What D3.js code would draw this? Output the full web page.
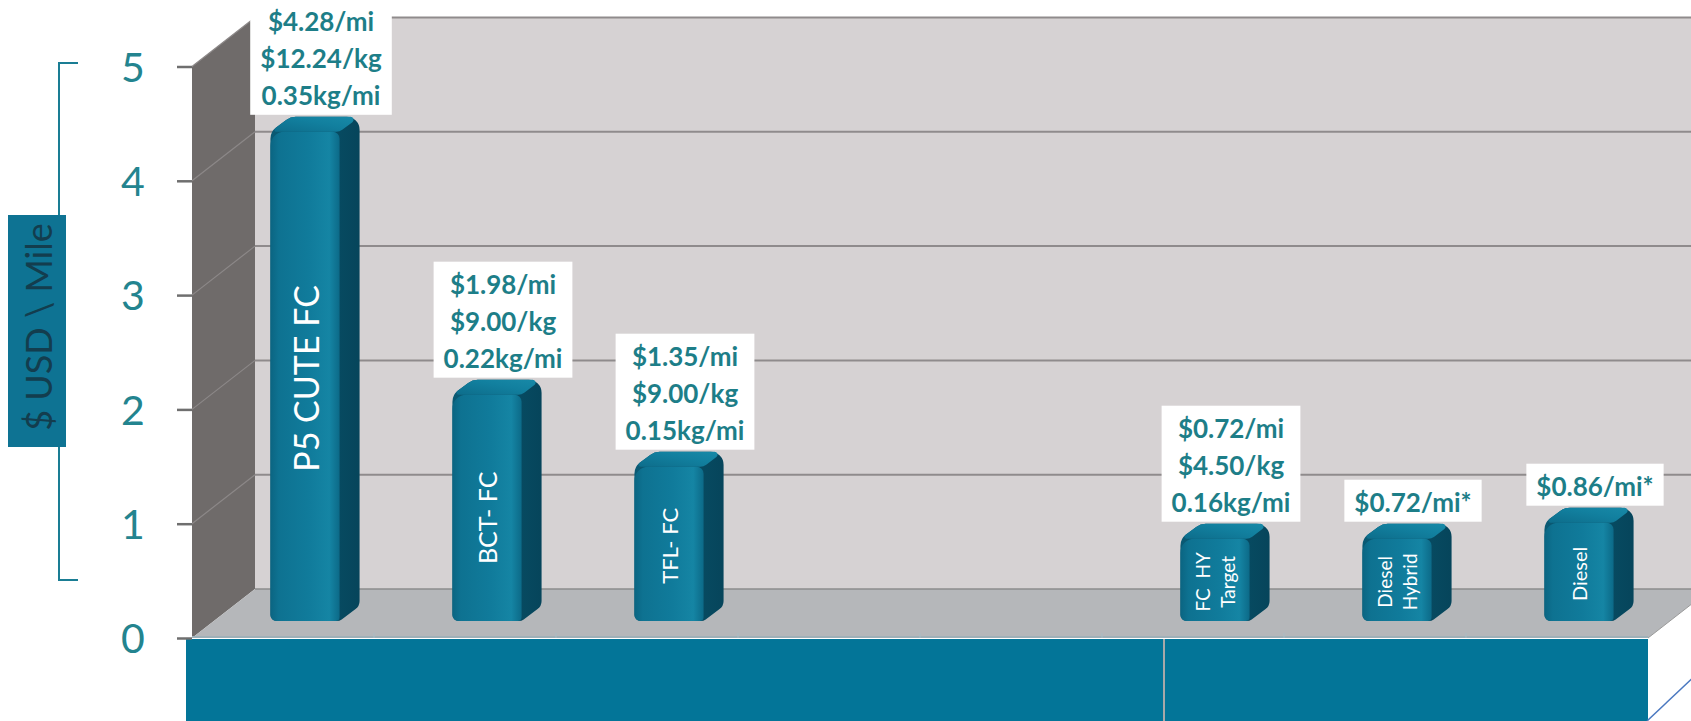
<!DOCTYPE html>
<html>
<head>
<meta charset="utf-8">
<script src="https://cdn.jsdelivr.net/npm/d3@7"></script>
<style>
  html, body { margin: 0; padding: 0; background: #ffffff; }
  svg { display: block; }
</style>
</head>
<body>
<svg id="chart" width="1691" height="721"></svg>
<script>
// ---- data ----
const categories = ["P5 CUTE FC", "BCT- FC", "TFL- FC", "", "", "FC  HY|Target", "Diesel|Hybrid", "Diesel"];
const costPerMile = [4.28, 1.98, 1.35, null, null, 0.72, 0.72, 0.86];
const valueLabels = [
  ["$4.28/mi", "$12.24/kg", "0.35kg/mi"],
  ["$1.98/mi", "$9.00/kg", "0.22kg/mi"],
  ["$1.35/mi", "$9.00/kg", "0.15kg/mi"],
  [],
  [],
  ["$0.72/mi", "$4.50/kg", "0.16kg/mi"],
  ["$0.72/mi*"],
  ["$0.86/mi*"]
];
const barNameSizes = [34, 25, 22, 19, 19, 19, 19, 20];
const yTicks = [0, 1, 2, 3, 4, 5];
const yTitle = "$ USD \\ Mile";

// ---- layout ----
const svg = d3.select("#chart");
const plot = { left: 192, right: 1648, bottom: 638, top: 66.5 };
const depth = { x: 63, y: 49 };          // oblique offset from front edge to back wall
const barShift = { x: 22, y: 17 };       // front face of bars sits partway into the floor
const barSide = { x: 20, y: 15 };        // visible thickness of each bar

const y = d3.scaleLinear().domain([0, 5]).range([plot.bottom, plot.top]);
const x = d3.scaleBand()
  .domain(d3.range(categories.length))
  .range([plot.left, plot.right])
  .paddingInner(0.62)
  .paddingOuter(0.31);

const TEAL = "#0e7393";
const LABEL_TEAL = "#1d7e88";

// gradients
const defs = svg.append("defs");
const gFront = defs.append("linearGradient").attr("id", "barFront").attr("x1", 0).attr("x2", 1).attr("y1", 0).attr("y2", 0);
[[0, "#0b6582"], [0.12, "#0e7291"], [0.55, "#107b9b"], [0.85, "#1585a4"], [1, "#0c6a88"]]
  .forEach(([o, c]) => gFront.append("stop").attr("offset", o).attr("stop-color", c));
const gTop = defs.append("linearGradient").attr("id", "barTop").attr("x1", 0).attr("x2", 1).attr("y1", 1).attr("y2", 0);
[[0, "#0d6d8b"], [0.6, "#12809f"], [1, "#1889a7"]]
  .forEach(([o, c]) => gTop.append("stop").attr("offset", o).attr("stop-color", c));
const gSide = defs.append("linearGradient").attr("id", "barSide").attr("x1", 0).attr("x2", 1).attr("y1", 0).attr("y2", 0);
[[0, "#0a5a74"], [1, "#06455b"]]
  .forEach(([o, c]) => gSide.append("stop").attr("offset", o).attr("stop-color", c));

// polygon with rounded corners built from arcTo segments
function roundedPoly(pts, radii) {
  const p = d3.path();
  const n = pts.length;
  const m = [(pts[0][0] + pts[1][0]) / 2, (pts[0][1] + pts[1][1]) / 2];
  p.moveTo(m[0], m[1]);
  for (let k = 1; k <= n; k++) {
    const a = pts[k % n], b = pts[(k + 1) % n];
    p.arcTo(a[0], a[1], b[0], b[1], radii[k % n]);
  }
  p.closePath();
  return p.toString();
}

// ---- walls and floor ----
const backLeft = plot.left + depth.x, backRight = plot.right + depth.x;
const yb = v => y(v) - depth.y;

svg.append("polygon")   // back wall
  .attr("points", [[backLeft, yb(5)], [backRight, yb(5)], [backRight, yb(0)], [backLeft, yb(0)]].join(" "))
  .attr("fill", "#d6d2d3");
svg.append("polygon")   // side wall
  .attr("points", [[plot.left, y(0)], [plot.left, y(5)], [backLeft, yb(5)], [backLeft, yb(0)]].join(" "))
  .attr("fill", "#6f6b6a");
svg.append("polygon")   // floor
  .attr("points", [[plot.left, y(0)], [backLeft, yb(0)], [backRight, yb(0)], [plot.right, y(0)]].join(" "))
  .attr("fill", "#b5b7ba");

// gridlines on back wall and side wall
svg.append("g").selectAll("line").data(yTicks.filter(d => d > 0)).join("line")
  .attr("x1", backLeft).attr("x2", backRight)
  .attr("y1", d => yb(d)).attr("y2", d => yb(d))
  .attr("stroke", "#8f8b8c").attr("stroke-width", 2);
svg.append("g").selectAll("line").data(yTicks.filter(d => d > 0)).join("line")
  .attr("x1", plot.left).attr("x2", backLeft)
  .attr("y1", d => y(d)).attr("y2", d => yb(d))
  .attr("stroke", "#8c8888").attr("stroke-width", 1.2);
svg.append("line")  // wall / floor junction
  .attr("x1", backLeft).attr("x2", backRight).attr("y1", yb(0)).attr("y2", yb(0))
  .attr("stroke", "#8c8c8c").attr("stroke-width", 1.5);
svg.append("line")  // floor right edge
  .attr("x1", plot.right).attr("y1", y(0)).attr("x2", backRight).attr("y2", yb(0))
  .attr("stroke", "#9a9a9a").attr("stroke-width", 1);

// front floor edge with category boundary ticks
svg.append("line")
  .attr("x1", plot.left).attr("x2", plot.right).attr("y1", y(0) - 1).attr("y2", y(0) - 1)
  .attr("stroke", "#9fb0b8").attr("stroke-width", 2);
svg.append("g").selectAll("line").data(d3.range(1, categories.length)).join("line")
  .attr("x1", d => plot.left + d * x.step()).attr("x2", d => plot.left + d * x.step())
  .attr("y1", y(0) - 5).attr("y2", y(0))
  .attr("stroke", "#a9bcc4").attr("stroke-width", 1);

// teal band under the floor
svg.append("rect")
  .attr("x", 186).attr("y", y(0) + 1)
  .attr("width", plot.right - 186).attr("height", 721 - y(0))
  .attr("fill", "#037598");
svg.append("line")
  .attr("x1", 1164).attr("x2", 1164).attr("y1", y(0) + 1).attr("y2", 721)
  .attr("stroke", "#a8a8a8").attr("stroke-width", 2);

// ---- y axis ----
const yAxis = d3.axisLeft(y).tickValues(yTicks).tickSize(15).tickFormat(d3.format("d"));
const ga = svg.append("g").attr("transform", `translate(${plot.left},0)`).call(yAxis);
ga.select(".domain").remove();
ga.selectAll(".tick line").attr("stroke", "#6f6f6f").attr("stroke-width", 2.5);
ga.selectAll(".tick text")
  .attr("x", -59).attr("text-anchor", "middle").attr("dy", "0.36em")
  .attr("fill", "#23848f")
  .style("font-family", "Lato, 'Open Sans', sans-serif")
  .style("font-weight", 400)
  .style("font-size", "41px");

// y title: bracket and boxed label
const bracket = svg.append("g").attr("stroke", "#1a7d94").attr("stroke-width", 2).attr("fill", "none");
bracket.append("path").attr("d", "M78,63 H59 V580 H78");
svg.append("rect").attr("x", 8).attr("y", 215).attr("width", 58).attr("height", 232).attr("fill", TEAL);
svg.append("text")
  .attr("transform", "translate(38,327) rotate(-90)")
  .attr("text-anchor", "middle").attr("dominant-baseline", "central")
  .attr("fill", "#133d4e")
  .style("font-family", "Lato, 'Open Sans', sans-serif")
  .style("font-size", "36px")
  .text(yTitle);

// ---- bars ----
const bars = categories.map((name, i) => ({ i, name, v: costPerMile[i], labels: valueLabels[i] }))
  .filter(d => d.v != null);

const w = x.bandwidth();
const gb = svg.append("g");
bars.forEach(d => {
  const x0 = x(d.i) + barShift.x, x1 = x0 + w;
  const yB = y(0) - barShift.y, yT = y(d.v) - barShift.y;
  const dx = barSide.x, dy = barSide.y;
  const g = gb.append("g");
  // silhouette (shows as the dark right side)
  g.append("path")
    .attr("d", roundedPoly([[x0, yB], [x0, yT], [x0 + dx, yT - dy], [x1 + dx, yT - dy], [x1 + dx, yB - dy], [x1, yB]],
      [6, 14, 16, 13, 10, 8]))
    .attr("fill", "url(#barSide)");
  // top face
  g.append("path")
    .attr("d", roundedPoly([[x0, yT], [x0 + dx, yT - dy], [x1 + dx, yT - dy], [x1, yT]], [2, 16, 3, 10]))
    .attr("fill", "url(#barTop)");
  // front face
  g.append("path")
    .attr("d", roundedPoly([[x0, yB], [x0, yT], [x1, yT], [x1, yB]], [6, 14, 7, 4]))
    .attr("fill", "url(#barFront)");

  // category name inside the bar
  const lines = d.name.split("|");
  const fs = barNameSizes[d.i];
  const lh = fs * 1.35;
  const cx = (x0 + x1) / 2, cy = (yT + yB) / 2 + (d.i === 1 ? 10 : 2);
  const t = g.append("text")
    .attr("transform", `translate(${cx},${cy}) rotate(-90)`)
    .attr("text-anchor", "middle")
    .attr("fill", "#ffffff")
    .style("font-family", "Lato, 'Open Sans', sans-serif")
    .style("font-size", fs + "px");
  lines.forEach((ln, k) => {
    t.append("tspan").attr("x", 0)
      .attr("y", (k - (lines.length - 1) / 2) * lh)
      .attr("dominant-baseline", "central")
      .style("white-space", "pre")
      .text(ln);
  });
});

// ---- value label boxes ----
const gl = svg.append("g");
bars.forEach(d => {
  const x0 = x(d.i) + barShift.x;
  const yTop = y(d.v) - barShift.y - barSide.y;
  const cx = x0 + w / 2 + 16;
  const n = d.labels.length;
  const lineH = 37;
  const h = lineH * (n - 1) + 42;
  const yBottom = yTop - 2;
  const g = gl.append("g");
  const rect = g.append("rect").attr("fill", "#ffffff");
  const t = g.append("text")
    .attr("text-anchor", "middle")
    .attr("fill", LABEL_TEAL)
    .style("font-family", "Lato, 'Open Sans', sans-serif")
    .style("font-weight", 700)
    .style("font-size", "26px");
  d.labels.forEach((s, k) => {
    t.append("tspan").attr("x", cx).attr("y", yBottom - h + 22 + k * lineH)
      .attr("dominant-baseline", "central").text(s);
  });
  const bw = t.node().getBBox().width + 20;
  rect.attr("x", cx - bw / 2).attr("y", yBottom - h).attr("width", bw).attr("height", h);
});

// thin connector running off the lower right corner
svg.append("line")
  .attr("x1", 1647).attr("y1", 721).attr("x2", 1700).attr("y2", 671)
  .attr("stroke", "#4a78c0").attr("stroke-width", 1.5);
</script>
</body>
</html>
